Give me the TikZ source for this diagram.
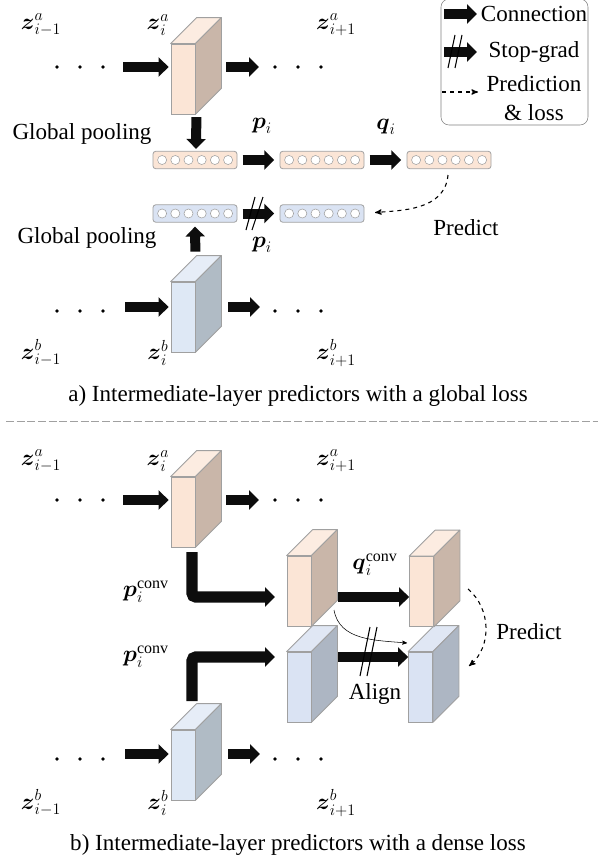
\documentclass[tikz,border=0pt]{standalone}
\usepackage{amsmath}
\usepackage{amsfonts}
\usepackage{fontspec}
\setmainfont{Liberation Serif}
\usepackage{tikz}
\usetikzlibrary{arrows,arrows.meta}
\usetikzlibrary{calc}
\definecolor{oface}{HTML}{FBE5D6}
\definecolor{otop}{HTML}{FCECE1}
\definecolor{oside}{HTML}{C9B6A9}
\definecolor{bface}{HTML}{DAE3F3}
\definecolor{btop}{HTML}{E0E7F4}
\definecolor{bside}{HTML}{ADB6C3}
\definecolor{cface}{HTML}{DEE8F5}
\definecolor{ctop}{HTML}{E6EDF7}
\definecolor{cside}{HTML}{B0BBC5}
\definecolor{edgegray}{HTML}{A0A0A0}
\definecolor{arrowblk}{HTML}{0D0D0D}
% top and side of a block, from its front node
\newcommand{\blockfaces}[3]{
  \path[draw=edgegray,fill=#2,semithick,line join=round] (#1.north west) -- ($(#1.north west)+(26,-26)$) -- ($(#1.north east)+(26,-26)$) -- (#1.north east) -- cycle;
  \path[draw=edgegray,fill=#3,semithick,line join=round] (#1.north east) -- ($(#1.north east)+(26,-26)$) -- ($(#1.south east)+(26,-26)$) -- (#1.south east) -- cycle;
}
% six small circles in a feature bar
\newcommand{\barcircles}[1]{
  \foreach \k in {1,...,6} \node[cell] (#1\k) at ($(#1.west)+(9.5+13.2*\k-13.2,0)$) {};
}
\begin{document}
\begin{tikzpicture}[x=0.75pt,y=-0.75pt,>=stealth',font=\fontsize{17.28}{20}\selectfont]
  \tikzstyle{block}=[draw=edgegray,semithick,inner sep=0pt,minimum width=18pt,minimum height=52.5pt]
  \tikzstyle{fbar}=[draw=edgegray,semithick,rounded corners=2pt,inner sep=0pt,minimum width=63pt,minimum height=13pt]
  \tikzstyle{cell}=[draw=edgegray,fill=white,circle,inner sep=0pt,minimum size=6.8pt]
  \tikzstyle{dot}=[fill=black,circle,inner sep=0pt,minimum size=2.8pt]
  \tikzstyle{conn}=[draw=arrowblk,line width=7.5pt,-{Triangle[length=7.5pt,width=14.25pt,fill=arrowblk]}]
  \tikzstyle{elbow}=[conn,line width=8.5pt,rounded corners=3pt]
  \tikzstyle{slash}=[draw=black,thick]
  \tikzstyle{dashconn}=[draw=black,dashed,thick,->]
  \useasboundingbox (0,0) rectangle (598,860);

  % panel a
  \node[block,fill=oface] (C1) at (183,79) {};
  \node[block,fill=cface] (C2) at (183,317) {};
  \blockfaces{C1}{otop}{oside}
  \blockfaces{C2}{ctop}{cside}

  \node[fbar,fill=oface] (P1) at (195,160) {};
  \node[fbar,fill=oface] (P2) at (322,160) {};
  \node[fbar,fill=oface] (P3) at (449,160) {};
  \node[fbar,fill=bface] (S1) at (195,213.5) {};
  \node[fbar,fill=bface] (S2) at (322,213.5) {};
  \barcircles{P1} \barcircles{P2} \barcircles{P3} \barcircles{S1} \barcircles{S2}

  \foreach \x [count=\n] in {57,80,103,275,298,321} {
    \node[dot] (d\n) at (\x,67) {};
    \node[dot] (e\n) at (\x,311) {};
    \node[dot] (f\n) at (\x,500) {};
    \node[dot] (g\n) at (\x,759) {};
  }

  \node (za1) at (41,25) {$\boldsymbol{z}_{i-1}^{a}$};
  \node (za2) at (158,25) {$\boldsymbol{z}_{i}^{a}$};
  \node (za3) at (336,25) {$\boldsymbol{z}_{i+1}^{a}$};
  \node (zb1) at (41,353) {$\boldsymbol{z}_{i-1}^{b}$};
  \node (zb2) at (158,353) {$\boldsymbol{z}_{i}^{b}$};
  \node (zb3) at (336,353) {$\boldsymbol{z}_{i+1}^{b}$};
  \node (lp1) at (262,126) {$\boldsymbol{p}_{i}$};
  \node (lq1) at (386,127) {$\boldsymbol{q}_{i}$};
  \node (lp2) at (262,245) {$\boldsymbol{p}_{i}$};
  \node (gp1) at (82,134) {Global pooling};
  \node (gp2) at (87,238) {Global pooling};
  \node (pr1) at (466,228) {Predict};
  \node (cap1) at (298,396) {a) Intermediate-layer predictors with a global loss};

  \coordinate (a1) at (123,67);
  \coordinate (a2) at (226,67);
  \coordinate (a3) at (259,67);
  \coordinate (b1) at (125,307);
  \coordinate (b2) at (228,307);
  \coordinate (b3) at (260,307);
  \draw[conn,shorten >=1.5pt] (a1) -- (a1 -| C1.west);
  \draw[conn] (a2) -- (a3);
  \draw[conn,shorten >=1.5pt] (b1) -- (b1 -| C2.west);
  \draw[conn] (b2) -- (b3);
  \draw[conn,shorten <=2pt,shorten >=1.5pt] ($(C1.south east)+(1,0)$) -- ($(P1.north)+(1,0)$);
  \draw[conn,shorten <=3pt,shorten >=3pt] ($(C2.north east)+(0,-26)$) -- (S1.south);
  \draw[conn,shorten <=4pt,shorten >=4pt] (P1.east) -- (P2.west);
  \draw[conn,shorten <=4pt,shorten >=4pt] (P2.east) -- (P3.west);
  \draw[conn,shorten <=4pt,shorten >=4pt] (S1.east) -- (S2.west);
  \coordinate (s1a) at (255,197);
  \coordinate (s1b) at (246,230);
  \coordinate (s2a) at (263,197);
  \coordinate (s2b) at (252,230);
  \draw[slash] (s1a) -- (s1b);
  \draw[slash] (s2a) -- (s2b);
  \coordinate (t1) at (448,175);
  \draw[dashconn,shorten >=8pt] (t1) to[out=-95,in=5] (S2.east);

  % legend
  \node[draw=gray,rounded corners=6pt,inner sep=0pt,minimum width=110.25pt,minimum height=94.5pt] (L) at (514.5,62) {};
  \coordinate (l1a) at (444,14);
  \coordinate (l1b) at (477,14);
  \coordinate (l2a) at (444,52);
  \coordinate (l2b) at (477,52);
  \coordinate (l3a) at (442,92);
  \coordinate (l3b) at (478,92);
  \coordinate (l4a) at (455,35);
  \coordinate (l4b) at (448,68);
  \coordinate (l5a) at (462,35);
  \coordinate (l5b) at (455,68);
  \draw[conn] (l1a) -- (l1b);
  \draw[conn] (l2a) -- (l2b);
  \draw[slash] (l4a) -- (l4b);
  \draw[slash] (l5a) -- (l5b);
  \draw[dashconn] (l3a) -- (l3b);
  \node (lt1) at (534,14) {Connection};
  \node (lt2) at (534,52) {Stop-grad};
  \node (lt3) at (534,84) {Prediction};
  \node (lt4) at (534,113) {\& loss};

  % divider
  \coordinate (m1) at (6,421);
  \coordinate (m2) at (598,421);
  \draw[draw=edgegray,semithick,dash pattern=on 6pt off 2pt] (m1) -- (m2);

  % panel b
  \node[block,fill=oface] (C3) at (183,512) {};
  \node[block,fill=oface] (C4) at (299,591) {};
  \node[block,fill=oface] (C5) at (421.5,591.5) {};
  \node[block,fill=bface] (C6) at (299,687) {};
  \node[block,fill=bface] (C7) at (420.5,687) {};
  \node[block,fill=cface] (C8) at (183,765) {};
  \blockfaces{C3}{otop}{oside}
  \blockfaces{C8}{ctop}{cside}
  \blockfaces{C6}{btop}{bside}
  \blockfaces{C7}{btop}{bside}
  \blockfaces{C4}{otop}{oside}
  \blockfaces{C5}{otop}{oside}

  \node (zc1) at (41,461) {$\boldsymbol{z}_{i-1}^{a}$};
  \node (zc2) at (158,461) {$\boldsymbol{z}_{i}^{a}$};
  \node (zc3) at (336,461) {$\boldsymbol{z}_{i+1}^{a}$};
  \node (zd1) at (41,803) {$\boldsymbol{z}_{i-1}^{b}$};
  \node (zd2) at (158,803) {$\boldsymbol{z}_{i}^{b}$};
  \node (zd3) at (336,803) {$\boldsymbol{z}_{i+1}^{b}$};
  \node (lp3) at (146,592) {$\boldsymbol{p}_{i}^{\mathrm{conv}}$};
  \node (lp4) at (146,657) {$\boldsymbol{p}_{i}^{\mathrm{conv}}$};
  \node (lq2) at (375,565) {$\boldsymbol{q}_{i}^{\mathrm{conv}}$};
  \node (al) at (375,694) {Align};
  \node (pr2) at (529,632) {Predict};
  \node (cap2) at (298,845) {b) Intermediate-layer predictors with a dense loss};

  \coordinate (h1) at (123,500);
  \coordinate (h2) at (226,500);
  \coordinate (h3) at (259,500);
  \coordinate (k1) at (125,754);
  \coordinate (k2) at (228,754);
  \coordinate (k3) at (260,754);
  \draw[conn,shorten >=1.5pt] (h1) -- (h1 -| C3.west);
  \draw[conn] (h2) -- (h3);
  \draw[conn,shorten >=1.5pt] (k1) -- (k1 -| C8.west);
  \draw[conn] (k2) -- (k3);

  \coordinate (r1) at (192,552);
  \coordinate (r2) at (192,597);
  \coordinate (r3) at (275,597);
  \coordinate (u1) at (192,701);
  \coordinate (u2) at (192,657);
  \coordinate (u3) at (275,657);
  \draw[elbow] (r1) -- (r2) -- (r3);
  \draw[elbow] (u1) -- (u2) -- (u3);
  \coordinate (v1) at (338,597);
  \coordinate (v2) at (338,657);
  \draw[conn] (v1) -- (v1 -| C5.west);
  \draw[conn] (v2) -- (v2 -| C7.west);

  \coordinate (w1) at (334,610);
  \coordinate (w2) at (407,643);
  \draw[black,->] (w1) to[out=-80,in=175] (w2);
  \coordinate (x1) at (377,627);
  \coordinate (x2) at (367,676);
  \coordinate (x3) at (370,627);
  \coordinate (x4) at (360,676);
  \draw[slash] (x1) -- (x2);
  \draw[slash] (x3) -- (x4);
  \coordinate (y1) at (468,589);
  \coordinate (y2) at (469,666);
  \draw[dashconn] (y1) to[out=-40,in=40] (y2);
\end{tikzpicture}
\end{document}
